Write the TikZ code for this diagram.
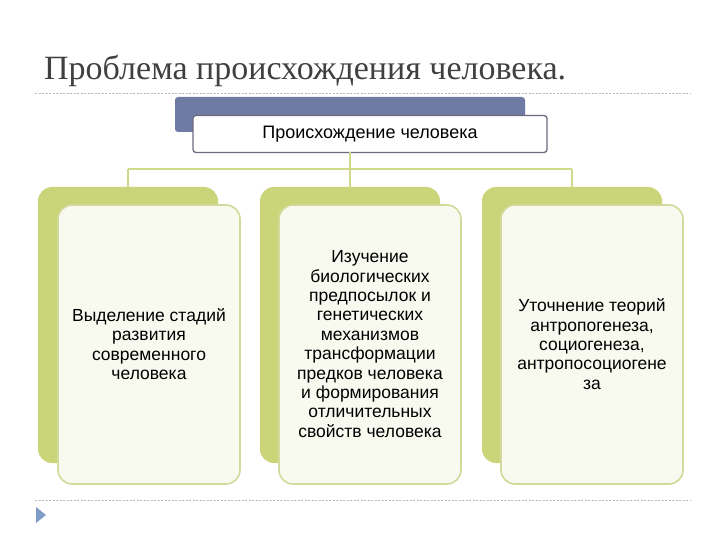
\documentclass[tikz,border=0pt]{standalone}
\usepackage{fontspec}
\setmainfont{Liberation Sans}
\newfontfamily\titlefont{Liberation Serif}
\definecolor{titlegray}{HTML}{404040}
\definecolor{dashgray}{HTML}{B8B8B8}
\definecolor{topback}{HTML}{6F7BA3}
\definecolor{topborder}{HTML}{6A6A80}
\definecolor{greenback}{HTML}{CAD57A}
\definecolor{greenline}{HTML}{D0D88C}
\definecolor{frontfill}{HTML}{F8F9EF}
\definecolor{frontborder}{HTML}{D2D99A}
\definecolor{arrowblue}{HTML}{7E9CC6}
\tikzset{
  backbox/.style={fill=greenback, draw=none, rounded corners=14pt},
  frontbox/.style={fill=frontfill, draw=frontborder, line width=1.6pt, rounded corners=14pt},
  boxtext/.style={align=center, font=\fontsize{17.5}{19.4}\selectfont, text=black},
  conn/.style={draw=greenline, line width=1.6pt},
  sep/.style={draw=dashgray, line width=0.6pt, dash pattern=on 2pt off 1.5pt}
}
\begin{document}
\begin{tikzpicture}[x=1pt,y=-1pt]
\useasboundingbox (0,0) rectangle (720,540);
% title
\node[anchor=base west, font=\titlefont\fontsize{34}{36}\selectfont, text=titlegray, inner sep=0] (title) at (44,80) {Проблема происхождения человека.};
\draw[sep] (35,93) -- (690,93);
\draw[sep] (35,500) -- (690,500);
\fill[arrowblue] (36,507) -- (46,515) -- (36,523) -- cycle;
% top box
\fill[topback, rounded corners=3pt] (175,97) rectangle (525,132);
\node[draw=topborder, fill=white, line width=1.3pt, rounded corners=3pt, minimum width=354pt, minimum height=37pt, inner sep=0, font=\fontsize{18}{20}\selectfont] (top) at (370,134) {Происхождение человека};
% connectors
\coordinate (hub) at (350,169);
\coordinate (hl) at (128,169);
\coordinate (hr) at (572,169);
\draw[conn] (350,152.5) -- (hub);
\draw[conn] (hl) -- (hr);
% boxes
\fill[backbox] (38,187) rectangle (218,463);
\fill[backbox] (260,187) rectangle (440,463);
\fill[backbox] (482,187) rectangle (662,463);
\draw[conn] (hl) -- (128,187);
\draw[conn] (hub) -- (350,187);
\draw[conn] (hr) -- (572,187);
\draw[frontbox] (58,205) rectangle (240,484);
\draw[frontbox] (279,205) rectangle (461,484);
\draw[frontbox] (501,205) rectangle (683,484);
\node[boxtext] (b1) at (149,344) {Выделение стадий\\развития\\современного\\человека};
\node[boxtext] (b2) at (370,344) {Изучение\\биологических\\предпосылок и\\генетических\\механизмов\\трансформации\\предков человека\\и формирования\\отличительных\\свойств человека};
\node[boxtext] (b3) at (592,344) {Уточнение теорий\\антропогенеза,\\социогенеза,\\антропосоциогене\\за};
\end{tikzpicture}
\end{document}
